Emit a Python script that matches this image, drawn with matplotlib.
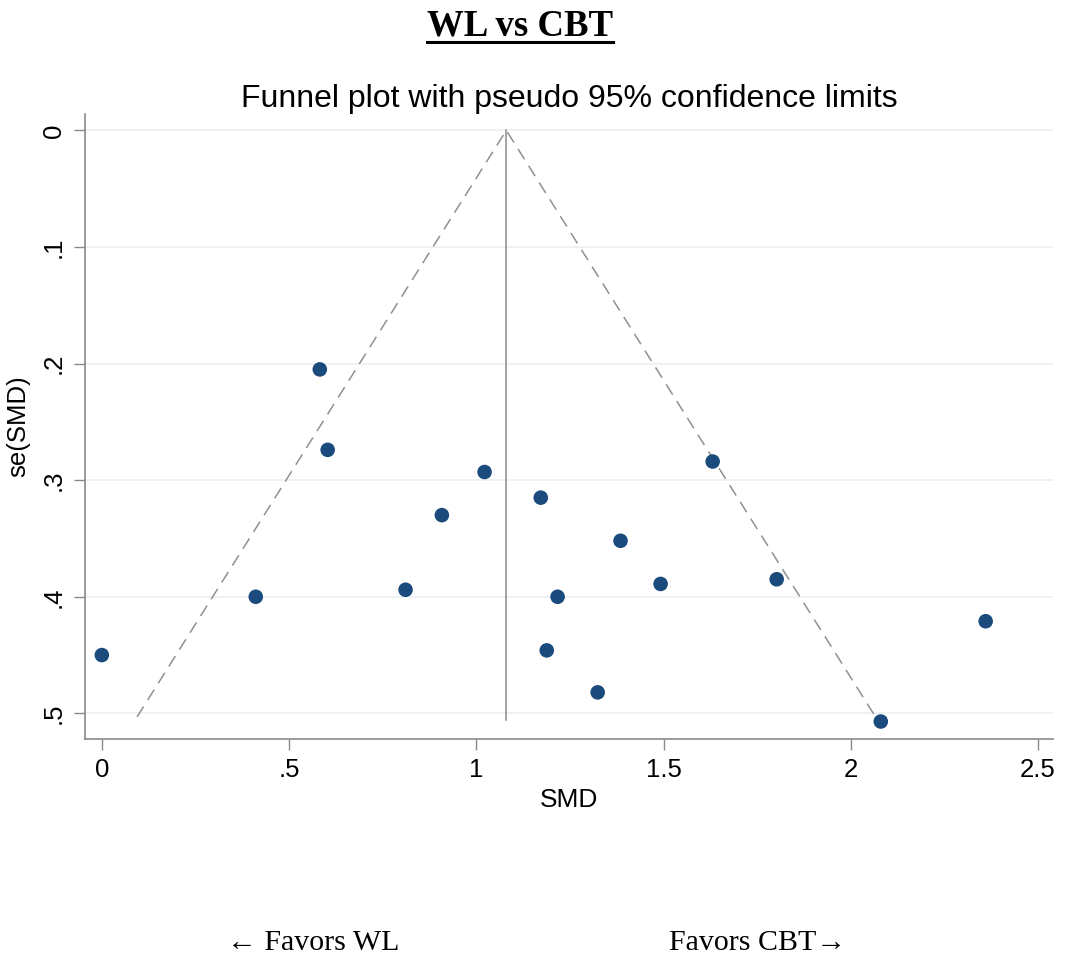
import matplotlib.pyplot as plt
from matplotlib.lines import Line2D

plt.rcParams['font.family'] = ['Liberation Sans', 'DejaVu Sans']

# --- data ---
smd = [0.00, 0.582, 0.603, 1.022, 0.908, 0.811, 0.411,
       1.631, 1.172, 1.385, 1.492, 1.802, 1.217, 1.188, 1.324, 2.080, 2.360]
se_smd = [0.450, 0.205, 0.274, 0.293, 0.330, 0.394, 0.400,
          0.284, 0.315, 0.352, 0.389, 0.385, 0.400, 0.446, 0.482, 0.507, 0.421]
pooled = 1.08
se_max = 0.503

x_ticks = [0, 0.5, 1, 1.5, 2, 2.5]
x_ticklabels = ["0", ".5", "1", "1.5", "2", "2.5"]
y_ticks = [0, 0.1, 0.2, 0.3, 0.4, 0.5]
y_ticklabels = ["0", ".1", ".2", ".3", ".4", ".5"]

grey = "#8a8a8a"
dot_color = "#1b4a7c"

fig = plt.figure(figsize=(10.65, 9.6), dpi=100)
ax = fig.add_axes([0.0798, 0.2302, 0.909, 0.651])

# grid
for yt in y_ticks:
    ax.axhline(yt, color="#eaf1f1", lw=1.2, zorder=0)

# funnel lines
ax.plot([pooled - 1.96 * se_max, pooled, pooled + 1.96 * se_max],
        [se_max, 0, se_max], color="#909090", lw=1.1, ls=(0, (8, 5)), zorder=1)
ax.plot([pooled, pooled], [0, se_max + 0.003], color=grey, lw=1.1, zorder=1)

ax.scatter(smd, se_smd, s=110, color=dot_color, edgecolors="none", zorder=3)

ax.set_xlim(-0.045, 2.54)
ax.set_ylim(0.522, -0.014)
ax.set_xticks(x_ticks)
ax.set_xticklabels(x_ticklabels)
ax.set_yticks(y_ticks)
ax.set_yticklabels(y_ticklabels, rotation=90, va="center")
ax.tick_params(colors=grey, labelcolor="black", labelsize=18.5, length=8, width=1, pad=6)

for s in ["top", "right"]:
    ax.spines[s].set_visible(False)
for s in ["left", "bottom"]:
    ax.spines[s].set_color(grey)
    ax.spines[s].set_linewidth(1.2)

ax.set_xlabel("SMD", fontsize=19, labelpad=4)
ax.set_ylabel("se(SMD)", fontsize=18.5, labelpad=8)
ax.set_title("Funnel plot with pseudo 95% confidence limits", fontsize=23, pad=5)

# heading with underline
head = fig.text(0.4878, 0.973, "WL vs CBT", family="Liberation Serif",
                fontweight="bold", fontsize=26.5, ha="center", va="center")
fig.canvas.draw()
bb = head.get_window_extent().transformed(fig.transFigure.inverted())
fig.add_artist(Line2D([bb.x0, bb.x1], [bb.y0 + 0.001, bb.y0 + 0.001],
                      transform=fig.transFigure, color="black", lw=2.2))

fig.text(0.294, 0.018, "\u2190 Favors WL", family="Liberation Serif",
         fontsize=21.5, ha="center", va="center")
fig.text(0.711, 0.018, "Favors CBT\u2192", family="Liberation Serif",
         fontsize=21.5, ha="center", va="center")

fig.savefig("out.png", dpi=100)
